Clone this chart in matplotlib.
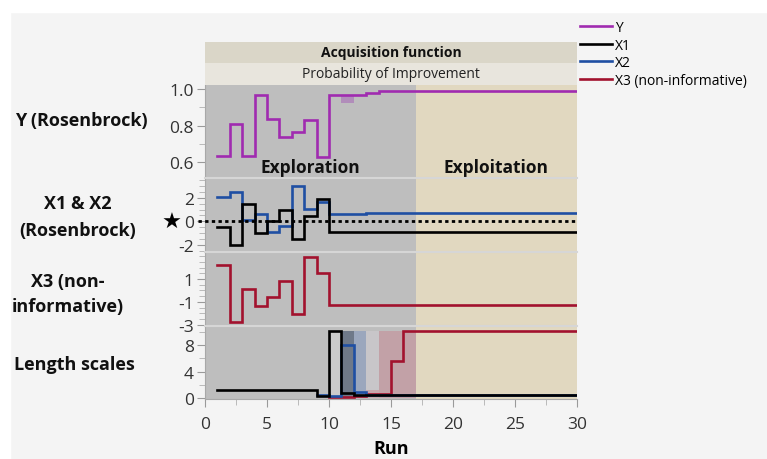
import numpy as np
import matplotlib
matplotlib.use("Agg")
import matplotlib.pyplot as plt
from matplotlib.patches import Rectangle
from matplotlib.ticker import MultipleLocator

plt.rcParams['font.family'] = ['Open Sans', 'DejaVu Sans']
plt.rcParams['axes.unicode_minus'] = False

# --- data ---
runs = np.arange(1, 31)

y_vals = [0.636, 0.807, 0.636, 0.967, 0.834, 0.739, 0.767, 0.831, 0.630, 0.967,
          0.967, 0.967, 0.978] + [0.99] * 17
x1_vals = [-0.51, -2.03, 1.48, -1.03, 0.0, 0.97, -1.51, 0.48, 1.91, -0.94,
           -0.94, -0.94, -0.89] + [-0.89] * 17
x2_vals = [2.05, 2.53, 0.14, 0.62, -0.94, -0.43, 3.04, 1.05, 1.62, 0.62,
           0.62, 0.62, 0.68] + [0.68] * 17
x3_vals = [2.22, -2.71, 0.13, -1.32, -0.59, 0.80, -2.04, 2.94, 1.50, -1.26,
           -1.26, -1.26, -1.28] + [-1.30] * 17

nan = np.nan
ls_x1 = [1.15] * 8 + [0.2, 10.15, 0.65] + [0.4] * 19
ls_x2 = [nan] * 8 + [0.4, 0.25, 8.03, 0.9] + [0.4] * 18
ls_x3 = [nan] * 9 + [0.15, 0.15, 0.3, 0.5, 0.55, 5.6] + [10.15] * 15

# shaded boxes in the length-scale panel
ls_shade_start = [10, 11, 12, 13, 13, 14]
ls_shade_end = [11, 12, 13, 14, 14, 17]
ls_shade_top = [10.15, 10.15, 10.15, 10.15, 1.25, 10.15]
ls_shade_color = ['#CBCBCB', '#6F7989', '#9BA7BD', '#C8C6C9', '#C6A6AC', '#C2A1A7']

# shaded box in the Y panel
y_shade = (11, 12, 0.922, 0.967)

phase_edges = [0, 17, 30]
phase_names = ['Exploration', 'Exploitation']
phase_colors = ['#BEBEBE', '#E1D8C0']

series_colors = {'Y': '#A02BB0', 'X1': '#000000', 'X2': '#1F4FA3',
                 'X3 (non-informative)': '#A2122E'}

# --- figure ---
W_PX, H_PX = 767, 460
fig = plt.figure(figsize=(W_PX / 100, H_PX / 100), dpi=100, facecolor='#F4F4F4')
fig.patches.append(Rectangle((0, 1 - 13 / H_PX), 1, 13 / H_PX, transform=fig.transFigure,
                             color='white', zorder=-10))
fig.patches.append(Rectangle((0, 0), 10 / W_PX, 1, transform=fig.transFigure,
                             color='white', zorder=-10))

left, right = 205, 577


def panel(top, bottom):
    return fig.add_axes([left / W_PX, 1 - bottom / H_PX,
                         (right - left) / W_PX, (bottom - top) / H_PX])


ax_y = panel(85.5, 179)
ax_x12 = panel(179, 253)
ax_x3 = panel(253, 327)
ax_ls = panel(327, 400)
axes = [ax_y, ax_x12, ax_x3, ax_ls]

for ax in axes:
    ax.set_xlim(0, 30)
    ax.set_facecolor('none')
    for i in range(len(phase_names)):
        ax.axvspan(phase_edges[i], phase_edges[i + 1], color=phase_colors[i], zorder=0, lw=0)
    for s in ['right', 'bottom']:
        ax.spines[s].set_visible(False)
    ax.spines['top'].set_color('#D6D6D6')
    ax.spines['top'].set_linewidth(1.5)
    ax.spines['left'].set_color('#A8A8A8')
    ax.tick_params(axis='y', which='major', length=6, color='#9A9A9A',
                   labelsize=12.5, labelcolor='#333333', pad=2)
    ax.tick_params(axis='y', which='minor', length=4, color='#B0B0B0')
    ax.tick_params(axis='x', which='both', bottom=False, labelbottom=False)
ax_y.spines['top'].set_visible(False)


def step(ax, vals, name, lw=1.9, z=3):
    return ax.plot(runs, vals, drawstyle='steps-post', color=series_colors[name],
                   lw=lw, zorder=z, label=name, solid_joinstyle='miter')[0]


# Y panel
ax_y.fill_between([y_shade[0], y_shade[1]], y_shade[2], y_shade[3],
                  color='#B18DBA', lw=0, zorder=2)
h_y = step(ax_y, y_vals, 'Y')
ax_y.set_ylim(0.514, 1.025)
ax_y.set_yticks([0.6, 0.8, 1.0])
ax_y.set_yticklabels(['0.6', '0.8', '1.0'])
ax_y.yaxis.set_minor_locator(MultipleLocator(0.1))
for i, name in enumerate(phase_names):
    ax_y.text((phase_edges[i] + phase_edges[i + 1]) / 2, 0.576, name,
              ha='center', va='center', fontsize=12.5, fontweight='bold', color='#111111')

# X1 & X2 panel
ax_x12.plot([-0.55, 30], [0, 0], color='black', ls=(0, (1.2, 1.2)), lw=2,
            zorder=4, clip_on=False)
h_x2 = step(ax_x12, x2_vals, 'X2')
h_x1 = step(ax_x12, x1_vals, 'X1')
ax_x12.set_ylim(-2.62, 3.7)
ax_x12.set_yticks([-2, 0, 2])
ax_x12.yaxis.set_minor_locator(MultipleLocator(0.5))

# X3 panel
h_x3 = step(ax_x3, x3_vals, 'X3 (non-informative)')
ax_x3.set_ylim(-3.09, 3.35)
ax_x3.set_yticks([-3, -1, 1])
ax_x3.yaxis.set_minor_locator(MultipleLocator(0.5))

# Length scales panel
for x0, x1, top, c in zip(ls_shade_start, ls_shade_end, ls_shade_top, ls_shade_color):
    ax_ls.fill_between([x0, x1], 0, top, color=c, lw=0, zorder=1)
step(ax_ls, ls_x3, 'X3 (non-informative)', z=3)
step(ax_ls, ls_x2, 'X2', z=3)
step(ax_ls, ls_x1, 'X1', z=4)
ax_ls.set_ylim(-0.2, 10.95)
ax_ls.set_yticks([0, 4, 8])
ax_ls.yaxis.set_minor_locator(MultipleLocator(2))
ax_ls.spines['bottom'].set_visible(True)
ax_ls.spines['bottom'].set_color('#A8A8A8')
ax_ls.tick_params(axis='x', which='major', bottom=True, labelbottom=True, length=6,
                  color='#9A9A9A', labelsize=12.5, labelcolor='#333333', pad=6)
ax_ls.tick_params(axis='x', which='minor', bottom=True, length=4, color='#B0B0B0')
ax_ls.set_xticks(range(0, 31, 5))
ax_ls.xaxis.set_minor_locator(MultipleLocator(2.5))
ax_ls.set_xlabel('Run', fontsize=13, fontweight='bold', labelpad=5)

# header bands
hax = fig.add_axes([left / W_PX, 1 - 85.5 / H_PX, (right - left) / W_PX, 42.8 / H_PX])
hax.set_xlim(0, 1)
hax.set_ylim(0, 1)
hax.axhspan(0.5, 1, color='#DAD6C8', lw=0)
hax.axhspan(0, 0.5, color='#E8E5DD', lw=0)
hax.axis('off')
hax.text(0.5, 0.75, 'Acquisition function', ha='center', va='center',
         fontsize=10, fontweight='bold', color='#111111')
hax.text(0.5, 0.25, 'Probability of Improvement', ha='center', va='center',
         fontsize=10, color='#222222')

# row labels on the left
row_labels = [(81, 121, 'Y (Rosenbrock)'), (78, 204, 'X1 & X2'), (78, 231, '(Rosenbrock)'),
              (68, 282, 'X3 (non-'), (68, 307, 'informative)'), (74, 365, 'Length scales')]
for px, py, txt in row_labels:
    fig.text(px / W_PX, 1 - py / H_PX, txt, ha='center', va='center',
             fontsize=13, fontweight='bold', color='#111111')
fig.text(172 / W_PX, 1 - 223 / H_PX, '\u2605', ha='center', va='center',
         fontsize=16, family='DejaVu Sans', color='black')

# legend
fig.legend([h_y, h_x1, h_x2, h_x3], [h.get_label() for h in [h_y, h_x1, h_x2, h_x3]],
           loc='upper left', bbox_to_anchor=(580 / W_PX, 1 - 21 / H_PX), frameon=False,
           fontsize=10, handlelength=2.3, handletextpad=0.2, labelspacing=0.18,
           borderaxespad=0, borderpad=0)

fig.savefig('out.png', dpi=100, facecolor=fig.get_facecolor())
